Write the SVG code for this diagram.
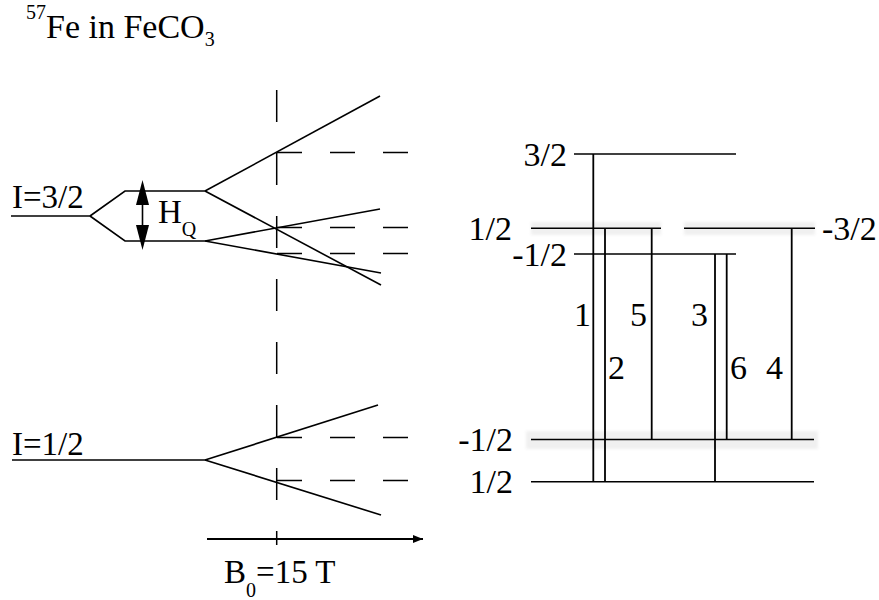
<svg xmlns="http://www.w3.org/2000/svg" width="879" height="600" viewBox="0 0 879 600">
<style>
text{font-family:"Liberation Serif","Times New Roman",serif;fill:#000}
.lv{stroke:#000;stroke-width:1.6;fill:none}
.tr{stroke:#000;stroke-width:1.8;fill:none}
.dh{stroke:#000;stroke-width:1.5;fill:none;stroke-dasharray:25 28}
.dv{stroke:#000;stroke-width:1.5;fill:none;stroke-dasharray:32 31}
.big{font-size:33px}
.lab{font-size:34px}
.smudge{fill:#cfcfcf;opacity:0.3;filter:url(#blur)}
</style>
<defs>
<marker id="ah" viewBox="0 0 10 8" refX="10" refY="4" markerWidth="10" markerHeight="8" markerUnits="userSpaceOnUse" orient="auto">
<path d="M0,0 L10,4 L0,8 Z" fill="#000"/>
</marker>
<filter id="blur"><feGaussianBlur stdDeviation="1.5"/></filter>
</defs>
<rect width="879" height="600" fill="#fff"/>

<g id="title">
<text x="26" y="19" font-size="20">57<tspan font-size="34" y="38">Fe in FeCO</tspan><tspan font-size="20" y="46">3</tspan></text>
</g>

<g id="smudges">
<rect class="smudge" x="531" y="222" width="130" height="13"/>
<rect class="smudge" x="684" y="222" width="131" height="13"/>
<rect class="smudge" x="526" y="431" width="292" height="18"/>
</g>

<g id="level-I32">
<line class="lv" x1="11" y1="216" x2="90" y2="216"/>
<text class="big" x="12" y="208">I=3/2</text>
</g>
<g id="quadrupole-split">
<polyline class="lv" points="90,216 125,191 205,191"/>
<polyline class="lv" points="90,216 125,241 205,241"/>
<line class="lv" x1="142.5" y1="203" x2="142.5" y2="227"/>
<polygon points="142.5,180 136,205 149,205" fill="#000"/>
<polygon points="142.5,250 136,225 149,225" fill="#000"/>
<text class="big" x="158" y="223">H<tspan font-size="20" y="236">Q</tspan></text>
</g>
<g id="zeeman-upper">
<line class="lv" x1="205" y1="191" x2="380" y2="96"/>
<line class="lv" x1="205" y1="191" x2="381" y2="285"/>
<line class="lv" x1="205" y1="241" x2="380" y2="209"/>
<line class="lv" x1="205" y1="241" x2="381" y2="273"/>
</g>
<g id="level-I12">
<line class="lv" x1="12" y1="460" x2="205" y2="460"/>
<text class="big" x="12" y="455">I=1/2</text>
</g>
<g id="zeeman-lower">
<line class="lv" x1="205" y1="460" x2="378" y2="405"/>
<line class="lv" x1="205" y1="460" x2="381" y2="515"/>
</g>

<g id="guides">
<line class="dv" x1="276.7" y1="90" x2="276.7" y2="545"/>
<line class="dh" x1="277" y1="152.5" x2="415" y2="152.5"/>
<line class="dh" x1="277" y1="227.5" x2="415" y2="227.5"/>
<line class="dh" x1="277" y1="253.5" x2="415" y2="253.5"/>
<line class="dh" x1="277" y1="437.5" x2="415" y2="437.5"/>
<line class="dh" x1="277" y1="480.5" x2="415" y2="480.5"/>
</g>

<g id="axis">
<line x1="207" y1="539" x2="423" y2="539" stroke="#000" stroke-width="2" marker-end="url(#ah)"/>
<text x="224" y="583" font-size="33">B<tspan font-size="20" dy="14">0</tspan><tspan dy="-14">=15 T</tspan></text>
</g>

<g id="levels-right">
<line class="lv" x1="574" y1="154" x2="736" y2="154"/>
<text class="lab" x="567" y="166" text-anchor="end">3/2</text>
<line class="lv" x1="531" y1="228.3" x2="661" y2="228.3"/>
<text class="lab" x="512" y="240" text-anchor="end">1/2</text>
<line class="lv" x1="684" y1="228.3" x2="815" y2="228.3"/>
<text class="lab" x="822" y="240">-3/2</text>
<line class="lv" x1="574" y1="254" x2="736" y2="254"/>
<text class="lab" x="567" y="266" text-anchor="end">-1/2</text>
<line class="lv" x1="531" y1="439.5" x2="814" y2="439.5"/>
<text class="lab" x="513" y="451" text-anchor="end">-1/2</text>
<line class="lv" x1="531" y1="481.7" x2="814" y2="481.7"/>
<text class="lab" x="513" y="493" text-anchor="end">1/2</text>
</g>

<g id="transitions">
<line class="tr" x1="593.3" y1="154" x2="593.3" y2="481.7"/>
<line class="tr" x1="605" y1="228.3" x2="605" y2="481.7"/>
<line class="tr" x1="651.7" y1="228.3" x2="651.7" y2="439.5"/>
<line class="tr" x1="715" y1="254" x2="715" y2="481.7"/>
<line class="tr" x1="726.7" y1="254" x2="726.7" y2="439.5"/>
<line class="tr" x1="791.7" y1="228.3" x2="791.7" y2="439.5"/>
</g>
<g id="transition-labels">
<text class="lab" x="574" y="326">1</text>
<text class="lab" x="630" y="326">5</text>
<text class="lab" x="691" y="326">3</text>
<text class="lab" x="608" y="379">2</text>
<text class="lab" x="730" y="379">6</text>
<text class="lab" x="766" y="379">4</text>
</g>
</svg>
